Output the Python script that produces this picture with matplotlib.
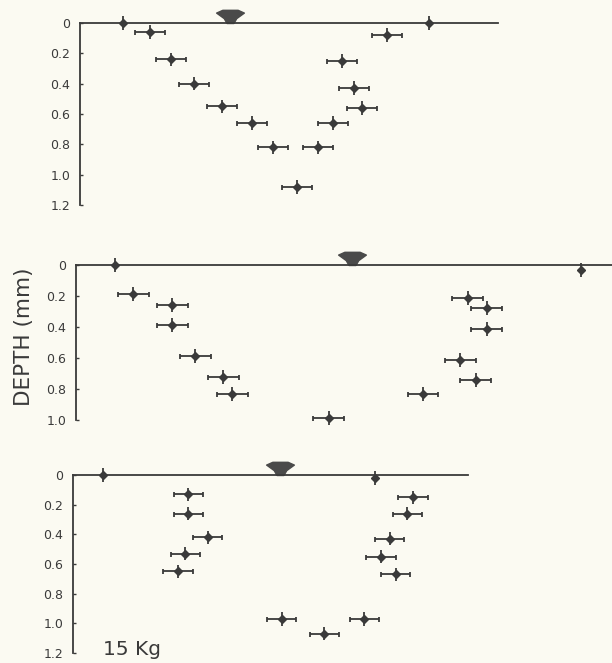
import matplotlib
matplotlib.use("Agg")
import matplotlib.pyplot as plt
from matplotlib.path import Path

# ---- data: lateral position (mm) and depth (mm) for three loads ----
p1_x = [0.29, 0.47, 0.61, 0.76, 0.95, 1.15, 1.29, 1.45, 1.59, 1.69, 1.88, 1.83, 1.75, 2.05, 2.33]
p1_depth = [0.00, 0.06, 0.24, 0.40, 0.55, 0.66, 0.82, 1.08, 0.82, 0.66, 0.56, 0.43, 0.25, 0.08, 0.00]
p1_xerr = [0.00, 0.10, 0.10, 0.10, 0.10, 0.10, 0.10, 0.10, 0.10, 0.10, 0.10, 0.10, 0.10, 0.10, 0.00]
p1_arrow = 1.00

p2_x = [0.25, 0.37, 0.62, 0.62, 0.77, 0.95, 1.01, 1.63, 2.24, 2.58, 2.48, 2.65, 2.65, 2.53, 3.26]
p2_depth = [0.00, 0.19, 0.26, 0.39, 0.59, 0.72, 0.83, 0.99, 0.83, 0.74, 0.61, 0.41, 0.28, 0.21, 0.03]
p2_xerr = [0.00, 0.10, 0.10, 0.10, 0.10, 0.10, 0.10, 0.10, 0.10, 0.10, 0.10, 0.10, 0.10, 0.10, 0.00]
p2_arrow = 1.78

p3_x = [0.20, 0.78, 0.78, 0.91, 0.76, 0.71, 1.41, 1.70, 1.97, 2.04, 2.30, 2.26, 2.14, 2.08, 2.18]
p3_depth = [0.00, 0.13, 0.26, 0.42, 0.53, 0.65, 0.97, 1.07, 0.97, 0.02, 0.15, 0.26, 0.43, 0.55, 0.67]
p3_xerr = [0.00, 0.10, 0.10, 0.10, 0.10, 0.10, 0.10, 0.10, 0.10, 0.00, 0.10, 0.10, 0.10, 0.10, 0.10]
p3_arrow = 1.40

yerr_val = 0.045

p1_ticks = [0, 0.2, 0.4, 0.6, 0.8, 1.0, 1.2]
p1_labels = ["0", "0.2", "0.4", "0.6", "0.8", "1.0", "1.2"]
p2_ticks = [0, 0.2, 0.4, 0.6, 0.8, 1.0]
p2_labels = ["0", "0.2", "0.4", "0.6", "0.8", "1.0"]
p3_ticks = [0, 0.2, 0.4, 0.6, 0.8, 1.0, 1.2]
p3_labels = ["0", "0.2", "0.4", "0.6", "0.8", "1.0", "1.2"]

ylabel = "DEPTH (mm)"
load_label = "15 Kg"

INK = "#3a3a3a"
BG = "#fbfaf2"

W, H = 612, 663
fig = plt.figure(figsize=(W / 100, H / 100), dpi=100, facecolor=BG)

arrow_path = Path([(-1, 0.75), (-0.55, 0.95), (0.55, 0.95), (1, 0.75),
                   (0.45, 0.35), (0.25, 0.0), (-0.25, 0.0), (-0.45, 0.35), (-1, 0.75)],
                  [Path.MOVETO] + [Path.LINETO] * 7 + [Path.CLOSEPOLY])


def panel(rect_px, xmax, ymax, xs, ds, xerr, arrow_x, ticks, labels):
    left, top, right, bottom = rect_px
    ax = fig.add_axes([left / W, (H - bottom) / H, (right - left) / W, (bottom - top) / H])
    ax.set_facecolor("none")
    ax.set_xlim(0, xmax)
    ax.set_ylim(ymax, 0)
    for s in ["bottom", "right"]:
        ax.spines[s].set_visible(False)
    for s in ["top", "left"]:
        ax.spines[s].set_color(INK)
        ax.spines[s].set_linewidth(1.3)
    ax.set_xticks([])
    ax.set_yticks(ticks)
    ax.set_yticklabels(labels, fontsize=9, color=INK)
    ax.tick_params(axis="y", direction="in", length=2.5, width=1, color=INK, pad=7)
    ax.errorbar(xs, ds, xerr=xerr, fmt="none", ecolor=INK, elinewidth=1.3,
                capsize=1.8, capthick=1.3, clip_on=False)
    ax.errorbar(xs, ds, yerr=yerr_val, fmt="D", color=INK, ms=4.5,
                elinewidth=1.3, capsize=0, clip_on=False)
    ax.plot([arrow_x], [0], marker=arrow_path, ms=20, color="#4a4a4a",
            linestyle="none", clip_on=False)
    return ax


panel((80, 23, 498, 205), 2.79, 1.2, p1_x, p1_depth, p1_xerr, p1_arrow, p1_ticks, p1_labels)
panel((76, 265, 612, 420), 3.46, 1.0, p2_x, p2_depth, p2_xerr, p2_arrow, p2_ticks, p2_labels)
panel((73, 475, 468, 653), 2.67, 1.2, p3_x, p3_depth, p3_xerr, p3_arrow, p3_ticks, p3_labels)

fig.text(24 / W, 1 - 337 / H, ylabel, rotation=90, ha="center", va="center",
         fontsize=15.5, color=INK)
fig.text(103 / W, 1 - 655 / H, load_label, ha="left", va="baseline",
         fontsize=14.5, color=INK)

fig.savefig("out.png", dpi=100, facecolor=BG)
